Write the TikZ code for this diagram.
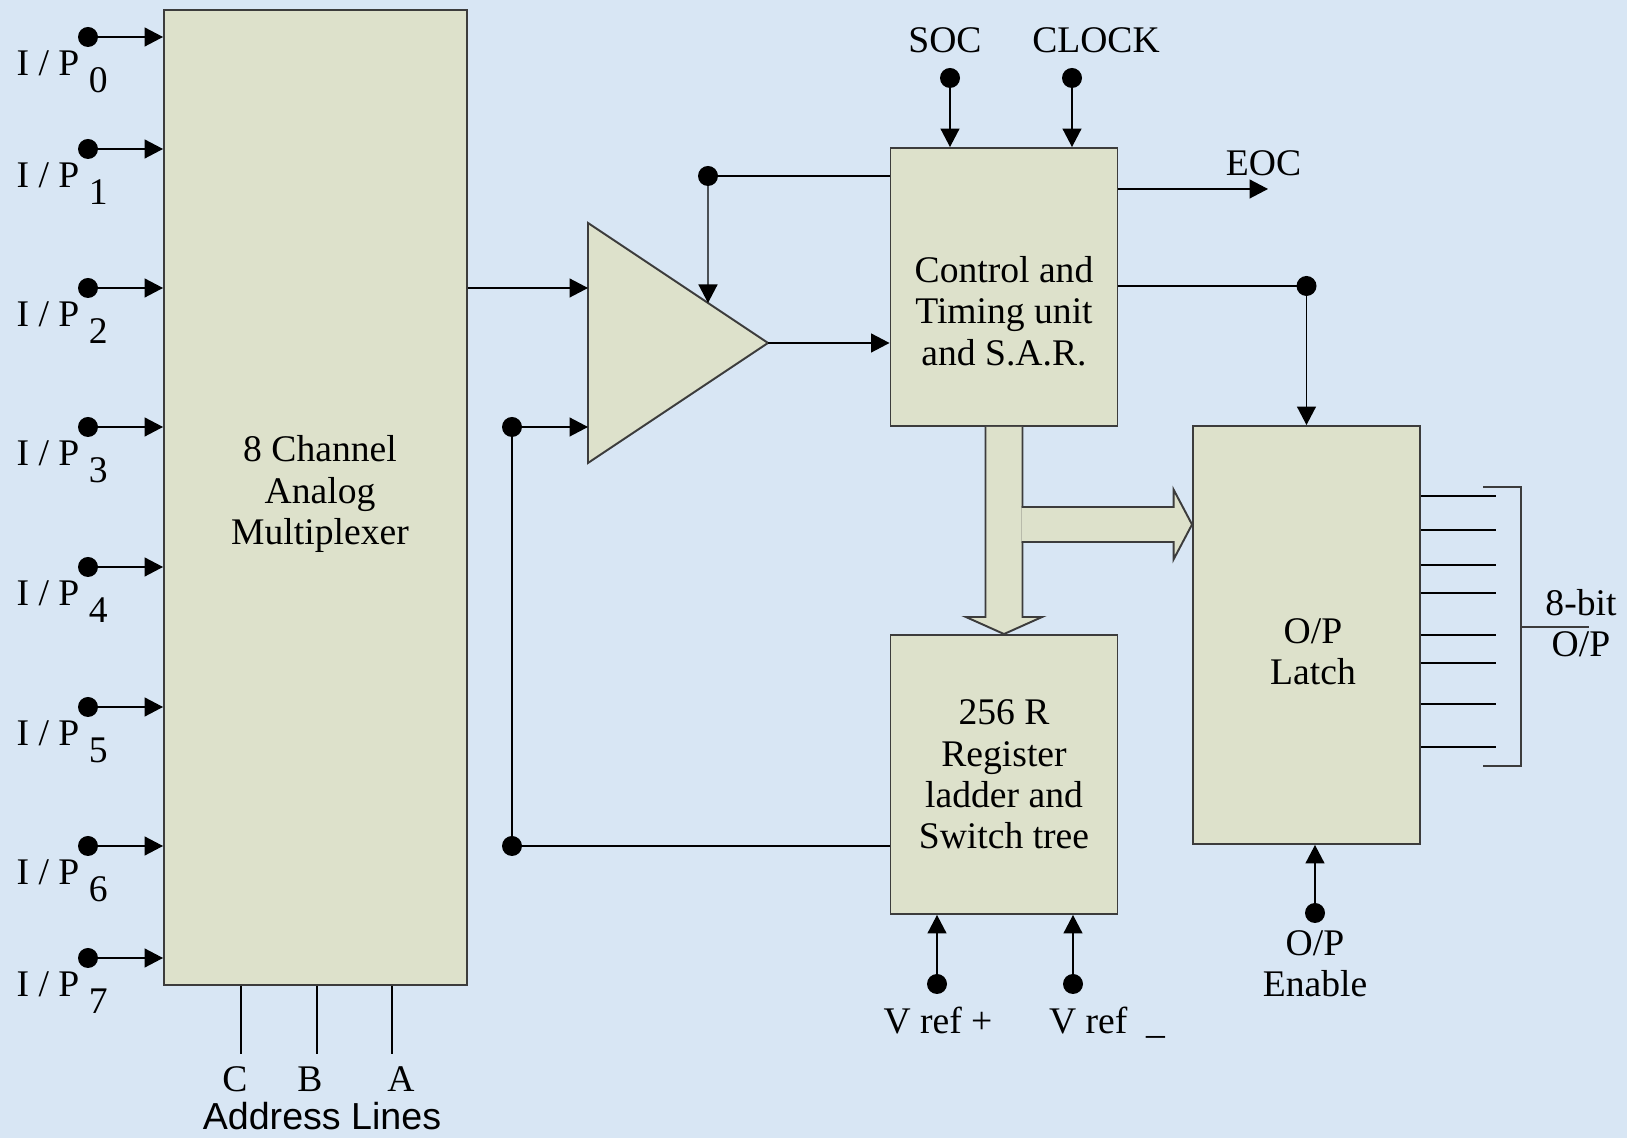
\documentclass[tikz,border=0pt]{standalone}
\usepackage{fontspec}
\setmainfont{Liberation Serif}
\newfontfamily\adcsans{Liberation Sans}
\usetikzlibrary{arrows.meta,calc}
\definecolor{adcInk}{HTML}{000000}
\definecolor{adcEdge}{HTML}{3C3C3C}
\definecolor{adcFill}{HTML}{DDE1CB}
\definecolor{adcSky}{HTML}{D8E6F4}
\newcommand{\adcsize}{\fontsize{10.7pt}{11.8pt}\selectfont}
\tikzset{
  every picture/.style={font=\adcsize, text=adcInk},
  adc box/.style={draw=adcEdge, line width=0.55pt, fill=adcFill,
    align=center, minimum width=22.7mm, inner sep=0pt},
  adc text/.style={align=center, inner sep=0pt},
  adc shape/.style={draw=adcEdge, line width=0.55pt, fill=adcFill, line join=miter},
  adc wire/.style={draw=adcInk, line width=0.4pt},
  adc arrow/.style={-{Triangle[length=1.85mm,width=1.9mm]},
    draw=adcInk, line width=0.4pt, line cap=butt},
  adc edge/.style={draw=adcEdge, line width=0.55pt},
  adc dot/.style={fill=adcInk}
}

\begin{document}
\begin{tikzpicture}[x=1cm,y=1cm]
  \fill[adcSky] (0,0) rectangle (16.27,-11.38);
  \useasboundingbox (0,0) rectangle (16.27,-11.38);
  % blocks
  \node[adc box, minimum width=30.3mm, minimum height=97.5mm] (mux) at (3.155,-4.975) {};
  \node[adc box, minimum height=27.8mm] (ctl) at (10.04,-2.87) {};
  \node[adc box, minimum height=27.9mm] (reg) at (10.04,-7.745) {256 R\\Register\\ladder and\\Switch tree};
  \node[adc box, minimum height=41.8mm] (latch) at (13.065,-6.35) {};
  \node[adc text] (muxtext) at (3.20,-4.94) {8 Channel\\Analog\\Multiplexer};
  \node[adc text] (ctltext) at (10.04,-3.11) {Control and\\Timing unit\\and S.A.R.};
  \node[adc text] (latchtext) at (13.13,-6.52) {O/P\\Latch};
  % inputs
  \coordinate (in0) at (0.88,-0.37); \coordinate (in1) at (0.88,-1.49); \coordinate (in2) at (0.88,-2.88); \coordinate (in3) at (0.88,-4.27);
  \coordinate (in4) at (0.88,-5.67); \coordinate (in5) at (0.88,-7.07); \coordinate (in6) at (0.88,-8.46); \coordinate (in7) at (0.88,-9.58);
  \draw[adc arrow] (in0) -- (in0 -| mux.west);
  \draw[adc arrow] (in1) -- (in1 -| mux.west);
  \draw[adc arrow] (in2) -- (in2 -| mux.west);
  \draw[adc arrow] (in3) -- (in3 -| mux.west);
  \draw[adc arrow] (in4) -- (in4 -| mux.west);
  \draw[adc arrow] (in5) -- (in5 -| mux.west);
  \draw[adc arrow] (in6) -- (in6 -| mux.west);
  \draw[adc arrow] (in7) -- (in7 -| mux.west);
  \fill[adc dot] (in0) circle (1mm) (in1) circle (1mm) (in2) circle (1mm) (in3) circle (1mm)
    (in4) circle (1mm) (in5) circle (1mm) (in6) circle (1mm) (in7) circle (1mm);
  \node[adc text, anchor=base west] (ip0) at (0.16,-0.76) {I / P \raisebox{-0.43em}{0}};
  \node[adc text, anchor=base west] (ip1) at (0.16,-1.88) {I / P \raisebox{-0.43em}{1}};
  \node[adc text, anchor=base west] (ip2) at (0.16,-3.27) {I / P \raisebox{-0.43em}{2}};
  \node[adc text, anchor=base west] (ip3) at (0.16,-4.66) {I / P \raisebox{-0.43em}{3}};
  \node[adc text, anchor=base west] (ip4) at (0.16,-6.06) {I / P \raisebox{-0.43em}{4}};
  \node[adc text, anchor=base west] (ip5) at (0.16,-7.46) {I / P \raisebox{-0.43em}{5}};
  \node[adc text, anchor=base west] (ip6) at (0.16,-8.85) {I / P \raisebox{-0.43em}{6}};
  \node[adc text, anchor=base west] (ip7) at (0.16,-9.97) {I / P \raisebox{-0.43em}{7}};
  % address lines
  \coordinate (adC) at (2.41,-10.54); \coordinate (adB) at (3.17,-10.54); \coordinate (adA) at (3.92,-10.54);
  \draw[adc wire] (adC |- mux.south) -- (adC) (adB |- mux.south) -- (adB) (adA |- mux.south) -- (adA);
  \node[adc text, anchor=base] (labC) at (2.35,-10.92) {C};
  \node[adc text, anchor=base] (labB) at (3.10,-10.92) {B};
  \node[adc text, anchor=base] (labA) at (4.01,-10.92) {A};
  \node[adc text, anchor=base, font=\adcsans\adcsize] (addr) at (3.22,-11.30) {Address Lines};
  % comparator
  \coordinate (cmpTop) at (5.88,-2.23); \coordinate (cmpBot) at (5.88,-4.63); \coordinate (cmpTip) at (7.68,-3.43);
  \draw[adc shape] (cmpTop) -- (cmpTip) -- (cmpBot) -- cycle;
  \coordinate (cmpInA) at (5.88,-2.88); \coordinate (cmpInB) at (5.88,-4.27);
  \coordinate (cmpCtl) at ($(cmpTop)!0.6667!(cmpTip)$);
  \coordinate (fbTop) at (7.08,-1.76); \coordinate (fbDot) at (5.12,-4.27); \coordinate (fbLow) at (5.12,-8.46);
  \draw[adc arrow] (cmpInA -| mux.east) -- (cmpInA);
  \draw[adc arrow] (fbDot) -- (cmpInB);
  \draw[adc wire] (fbDot) -- (fbLow) -- (fbLow -| reg.west);
  \draw[adc arrow] (cmpTip) -- (cmpTip -| ctl.west);
  \draw[adc wire] (fbTop) -- (fbTop -| ctl.west);
  \draw[adc arrow] (fbTop) -- (cmpCtl);
  \fill[adc dot] (fbTop) circle (1mm) (fbDot) circle (1mm) (fbLow) circle (1mm);
  % control inputs and EOC
  \coordinate (soc) at (9.50,-0.78); \coordinate (clk) at (10.72,-0.78); \coordinate (eoc) at (12.68,-1.89);
  \draw[adc arrow] (soc) -- (soc |- ctl.north);
  \draw[adc arrow] (clk) -- (clk |- ctl.north);
  \fill[adc dot] (soc) circle (1mm) (clk) circle (1mm);
  \node[adc text, anchor=base] (soclab) at (9.45,-0.53) {SOC};
  \node[adc text, anchor=base] (clklab) at (10.96,-0.53) {CLOCK};
  \draw[adc arrow] (eoc -| ctl.east) -- (eoc);
  \node[adc text, anchor=base] (eoclab) at (12.635,-1.76) {EOC};
  \coordinate (latchDot) at (13.065,-2.86);
  \draw[adc wire] (latchDot -| ctl.east) -- (latchDot);
  \draw[adc arrow] (latchDot) -- (latch.north);
  \fill[adc dot] (latchDot) circle (1mm);
  % buses
  \draw[adc shape] ([xshift=-1.85mm]ctl.south) -- ([shift={(-1.85mm,1.7mm)}]reg.north) -- ([shift={(-3.8mm,1.7mm)}]reg.north)
    -- (reg.north) -- ([shift={(3.8mm,1.7mm)}]reg.north) -- ([shift={(1.85mm,1.7mm)}]reg.north) -- ([xshift=1.85mm]ctl.south);
  \coordinate (busTip) at ([yshift=11.05mm]latch.west);
  \coordinate (busL) at ($(ctl.south |- busTip)+(0.175,0)$);
  \draw[adc shape] ($(busL)+(0,0.175)$) -- ([shift={(-1.85mm,1.75mm)}]busTip) -- ([shift={(-1.85mm,3.5mm)}]busTip)
    -- (busTip) -- ([shift={(-1.85mm,-3.5mm)}]busTip) -- ([shift={(-1.85mm,-1.75mm)}]busTip) -- ($(busL)+(0,-0.175)$);
  % reference voltages
  \coordinate (vrefP) at (9.37,-9.84); \coordinate (vrefN) at (10.73,-9.84);
  \draw[adc arrow] (vrefP) -- (vrefP |- reg.south);
  \draw[adc arrow] (vrefN) -- (vrefN |- reg.south);
  \fill[adc dot] (vrefP) circle (1mm) (vrefN) circle (1mm);
  \node[adc text, anchor=base] (vplab) at (9.38,-10.34) {V ref +};
  \node[adc text, anchor=base] (vnlab) at (11.07,-10.34) {V ref\ \ \_};
  % output enable
  \coordinate (oe) at (13.15,-9.13);
  \draw[adc arrow] (oe) -- (oe |- latch.south);
  \fill[adc dot] (oe) circle (1mm);
  \node[adc text] (oelab) at (13.15,-9.64) {O/P\\Enable};
  % outputs
  \coordinate (q0) at (14.96,-4.96); \coordinate (q1) at (14.96,-5.30); \coordinate (q2) at (14.96,-5.65); \coordinate (q3) at (14.96,-5.93);
  \coordinate (q4) at (14.96,-6.35); \coordinate (q5) at (14.96,-6.63); \coordinate (q6) at (14.96,-7.04); \coordinate (q7) at (14.96,-7.47);
  \draw[adc wire] (q0 -| latch.east) -- (q0) (q1 -| latch.east) -- (q1) (q2 -| latch.east) -- (q2) (q3 -| latch.east) -- (q3)
    (q4 -| latch.east) -- (q4) (q5 -| latch.east) -- (q5) (q6 -| latch.east) -- (q6) (q7 -| latch.east) -- (q7);
  \coordinate (brTop) at (14.83,-4.87); \coordinate (brBot) at (14.83,-7.66);
  \coordinate (brMid) at (15.21,-6.27); \coordinate (brTick) at (15.89,-6.27);
  \draw[adc edge] (brTop) -| (brMid) |- (brBot);
  \draw[adc edge] (brMid) -- (brTick);
  \node[adc text] (outlab) at (15.81,-6.23) {8-bit\\O/P};
\end{tikzpicture}
\end{document}
